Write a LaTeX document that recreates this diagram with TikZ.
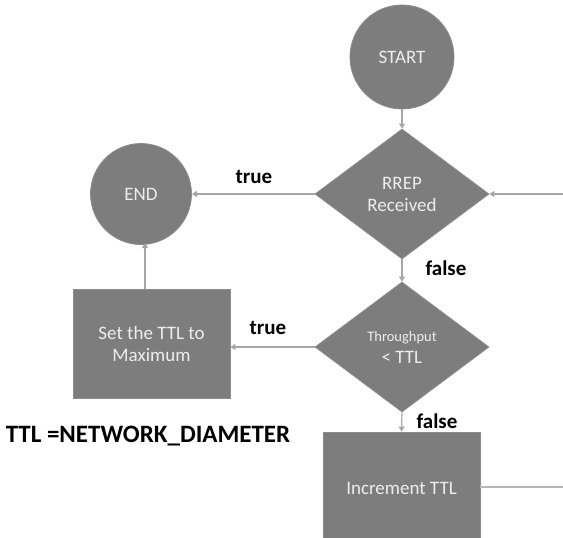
\documentclass[tikz,border=0pt]{standalone}
\usepackage{fontspec}
\setmainfont{Carlito}
\usetikzlibrary{shapes.geometric,arrows.meta}
\definecolor{boxfill}{HTML}{7D7D7D}
\definecolor{boxline}{HTML}{8C8C8C}
\definecolor{txt}{HTML}{EDEDED}
\definecolor{conn}{HTML}{A6A6A6}
\tikzset{
  shp/.style={fill=boxfill, draw=boxline, line width=0.8pt, text=txt, align=center, inner sep=0pt, font=\fontsize{19}{22}\selectfont},
  circ/.style={shp, circle, minimum size=#1},
  dia/.style={shp, diamond, minimum width=174pt, minimum height=130pt},
  rectbox/.style={shp, rectangle},
  conn/.style={draw=conn, line width=1.2pt, -{Triangle[width=6pt,length=5pt]}},
  plain/.style={draw=conn!80, line width=1.2pt},
  lbl/.style={font=\bfseries\fontsize{21}{23}\selectfont, text=black, inner sep=0pt}
}
\begin{document}
\begin{tikzpicture}[x=1pt,y=-1pt]
\useasboundingbox (0,0) rectangle (563,538);
\clip (0,0) rectangle (563,538);
\node[circ=104pt] (start) at (402,57) {START};
\node[dia] (rrep) at (402,194) {RREP\\Received};
\node[circ=101pt] (end) at (141,194) {END};
\node[dia] (thr) at (402,347) {{\fontsize{14.5}{21}\selectfont Throughput}\\{}< TTL};
\node[rectbox, minimum width=157pt, minimum height=109pt] (set) at (151.5,343.5) {Set the TTL to\\Maximum};
\node[rectbox, minimum width=157pt, minimum height=112pt] (inc) at (401.5,488) {Increment TTL};
\coordinate (rin) at (563,194);
\coordinate (rout) at (563,487);
\draw[conn] (start) -- (rrep);
\draw[conn] (rin) -- (rrep.east);
\draw[conn] (rrep.west) -- (end);
\draw[conn] (rrep.south) -- (thr.north);
\draw[conn] (thr.west) -- (set.east |- thr.west);
\draw[conn] (set.north -| 145,0) -- (145,243);
\draw[conn] (thr.south) -- (inc.north);
\draw[plain] (inc.east |- rout) -- (rout);
\node[lbl] (t1) at (254,177) {true};
\node[lbl] (t2) at (268,328) {true};
\node[lbl] (f1) at (446,268) {false};
\node[lbl] (f2) at (437,421) {false};
\node[font=\bfseries\fontsize{25}{28}\selectfont, inner sep=0pt] (ttl) at (148,436) {TTL =NETWORK\_DIAMETER};
\end{tikzpicture}
\end{document}
